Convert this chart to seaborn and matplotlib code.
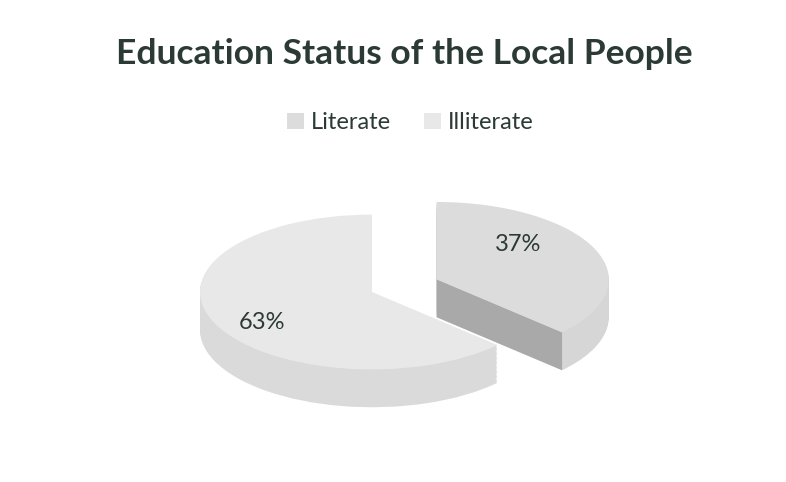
import numpy as np
import matplotlib
matplotlib.use('Agg')
import matplotlib.pyplot as plt
import matplotlib.transforms as mtransforms
from matplotlib.patches import Polygon
import seaborn as sns

# data
labels = ['Literate', 'Illiterate']
shares = [37, 63]
explode = [0.41, 0]

top_colors = ['#dcdcdc', '#e8e8e8']
side_colors = ['#d6d6d6', '#dadada']
cut_color = '#a9a9a9'
text_color = '#2b3a34'

sns.set_theme(style='white')
plt.rcParams['font.family'] = ['Lato', 'DejaVu Sans']

fig = plt.figure(figsize=(7.86, 4.82), dpi=100)
ax = fig.add_axes([0, 0, 1, 1])

tilt = 0.45
depth = 0.22

# extruded sides: stack of pies shifted down
for d in np.linspace(depth, 0.005, 30):
    tr = mtransforms.Affine2D().scale(1, tilt).translate(0, -d) + ax.transData
    wedges, _ = ax.pie(shares, explode=explode, colors=side_colors, startangle=90,
                       counterclock=False, radius=1, center=(0, 0), frame=True,
                       wedgeprops=dict(linewidth=0))
    for w in wedges:
        w.set_transform(tr)

tr = mtransforms.Affine2D().scale(1, tilt) + ax.transData

# dark radial cut face of the exploded slice
end_ang = np.deg2rad(90 - 360 * shares[0] / sum(shares))
mid_ang = np.deg2rad(90 - 180 * shares[0] / sum(shares))
ox, oy = explode[0] * np.cos(mid_ang), explode[0] * np.sin(mid_ang)
rx, ry = ox + np.cos(end_ang), oy + np.sin(end_ang)
dd = depth / tilt
ax.add_patch(Polygon([(ox, oy), (rx, ry), (rx, ry - dd), (ox, oy - dd)],
                     closed=True, facecolor=cut_color, linewidth=0, transform=tr))

# top faces
wedges, _, autotexts = ax.pie(shares, explode=explode, colors=top_colors, startangle=90,
                              counterclock=False, radius=1, center=(0, 0), frame=True,
                              autopct='%1.0f%%', pctdistance=0.72,
                              wedgeprops=dict(linewidth=0))
for w in wedges:
    w.set_transform(tr)
nudges = [(-0.19, 0.16), (0.02, -0.11)]
for t, (nx, ny) in zip(autotexts, nudges):
    x, y = t.get_position()
    t.set_position((x + nx, y + ny))
    t.set_transform(tr)
    t.set_fontsize(17)
    t.set_color(text_color)

ax.set_xlim(-372 / 172, (786 - 372) / 172)
ax.set_ylim(-190 / 172, 292 / 172)
ax.set_aspect('equal')
ax.axis('off')

fig.text(0.515, 0.887, 'Education Status of the Local People', ha='center', va='center',
         fontsize=25.5, fontweight='bold', color=text_color)

fig.legend(wedges, labels, loc='center', bbox_to_anchor=(0.522, 0.745), ncol=2,
           frameon=False, fontsize=17, handlelength=0.7, handleheight=0.7,
           handletextpad=0.3, columnspacing=1.4, labelcolor=text_color)

fig.savefig('out.png', dpi=100, facecolor='white')
